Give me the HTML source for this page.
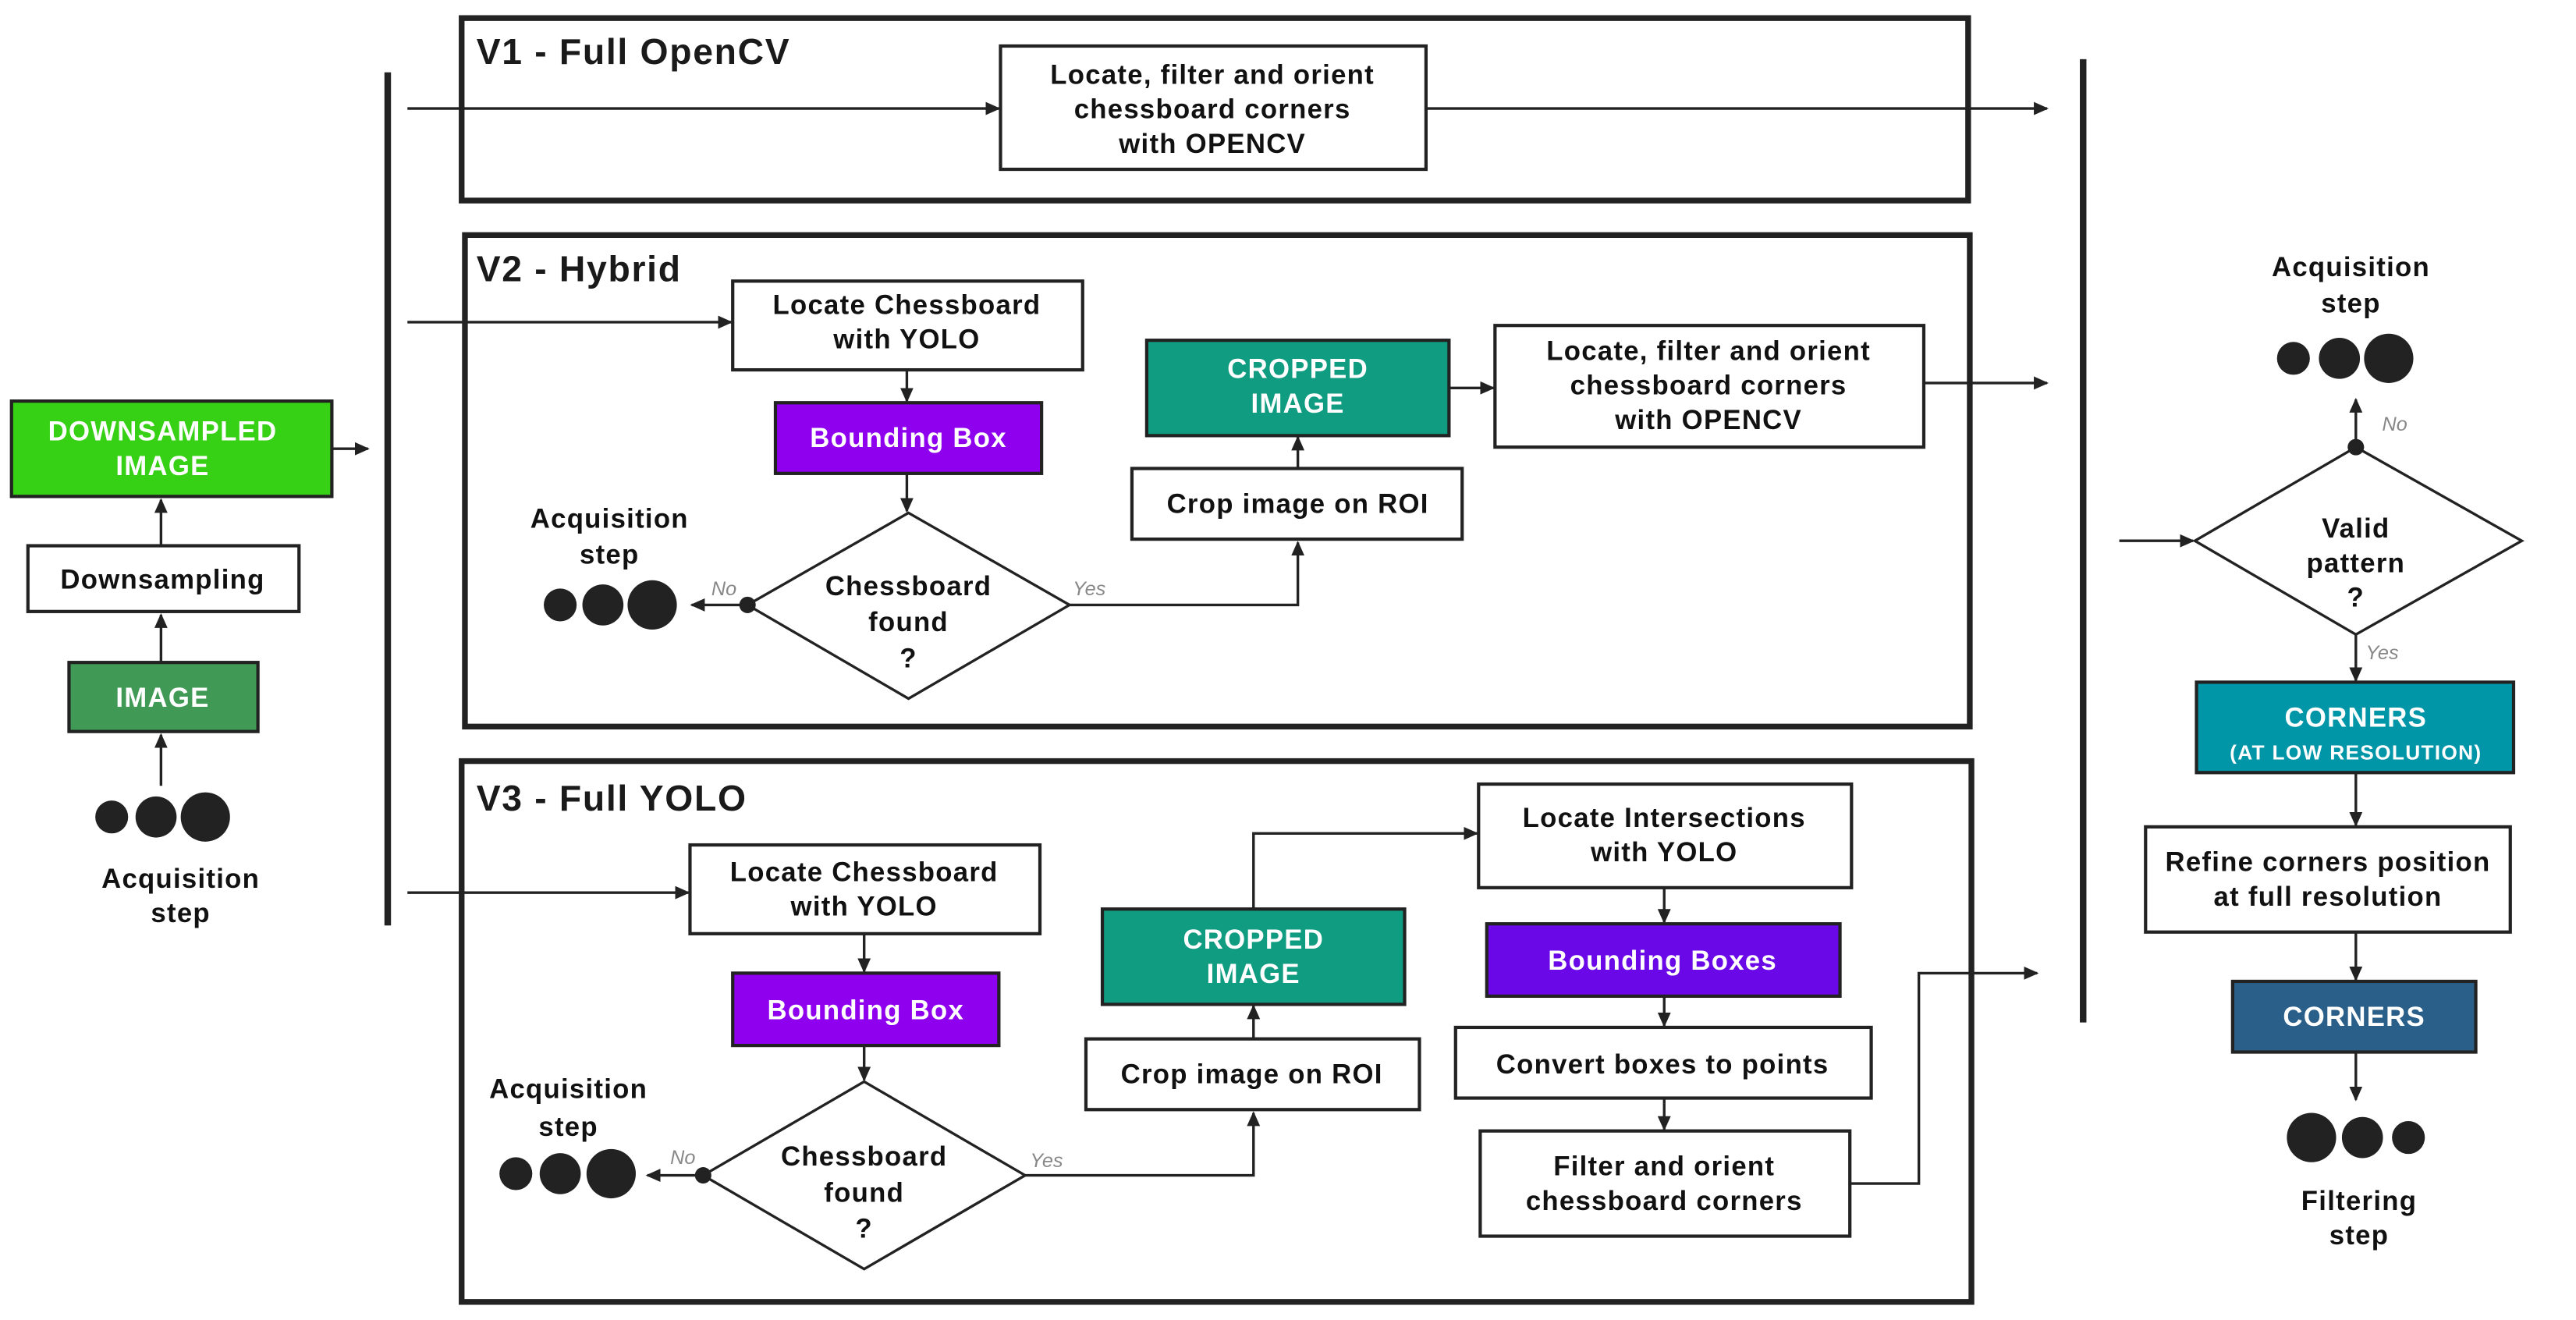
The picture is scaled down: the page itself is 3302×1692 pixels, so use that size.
<!DOCTYPE html>
<html><head><meta charset="utf-8"><style>
html,body{margin:0;padding:0;background:#fff;}
svg{display:block;}
text{font-family:"Liberation Sans",Arial,sans-serif;font-weight:bold;text-anchor:middle;}
.t{font-size:16.5px;fill:#111;letter-spacing:0.6px;}
.w{font-size:16.5px;fill:#fff;letter-spacing:0.6px;}
.h{font-size:22px;fill:#1a1a1a;text-anchor:start;letter-spacing:0.8px;}
.yn{font-size:12px;fill:#888;font-style:italic;font-weight:normal;text-anchor:start;}
</style></head><body>
<svg width="3302" height="1692" viewBox="0 0 1568 803" preserveAspectRatio="none" xmlns="http://www.w3.org/2000/svg">
<defs>
<marker id="a" markerWidth="10" markerHeight="10" refX="8" refY="5" orient="auto" markerUnits="userSpaceOnUse"><path d="M0,1 L9,5 L0,9 z" fill="#222"/></marker>
</defs>
<g stroke="#222" stroke-width="1.6" fill="none">
<!-- left column -->
<line x1="98" y1="478" x2="98" y2="447" marker-end="url(#a)"/>
<line x1="98" y1="403" x2="98" y2="374" marker-end="url(#a)"/>
<line x1="98" y1="332" x2="98" y2="304" marker-end="url(#a)"/>
<line x1="202" y1="273" x2="224" y2="273" marker-end="url(#a)"/>
<!-- bar arrows -->
<line x1="248" y1="66" x2="608" y2="66" marker-end="url(#a)"/>
<line x1="248" y1="196" x2="445" y2="196" marker-end="url(#a)"/>
<line x1="248" y1="543" x2="419" y2="543" marker-end="url(#a)"/>
<line x1="868" y1="66" x2="1246" y2="66" marker-end="url(#a)"/>
<!-- V2 -->
<line x1="552" y1="225" x2="552" y2="244" marker-end="url(#a)"/>
<line x1="552" y1="288" x2="552" y2="311" marker-end="url(#a)"/>
<line x1="455" y1="368" x2="421" y2="368" marker-end="url(#a)"/>
<polyline points="651,368 790,368 790,330" marker-end="url(#a)"/>
<line x1="790" y1="285" x2="790" y2="266" marker-end="url(#a)"/>
<line x1="882" y1="236" x2="909" y2="236" marker-end="url(#a)"/>
<line x1="1171" y1="233" x2="1246" y2="233" marker-end="url(#a)"/>
<!-- V3 -->
<line x1="526" y1="568" x2="526" y2="591" marker-end="url(#a)"/>
<line x1="526" y1="636" x2="526" y2="657" marker-end="url(#a)"/>
<line x1="428" y1="715" x2="394" y2="715" marker-end="url(#a)"/>
<polyline points="624,715 763,715 763,677" marker-end="url(#a)"/>
<line x1="763" y1="632" x2="763" y2="612" marker-end="url(#a)"/>
<polyline points="763,553 763,507 899,507" marker-end="url(#a)"/>
<line x1="1013" y1="540" x2="1013" y2="561" marker-end="url(#a)"/>
<line x1="1013" y1="606" x2="1013" y2="624" marker-end="url(#a)"/>
<line x1="1013" y1="668" x2="1013" y2="687" marker-end="url(#a)"/>
<polyline points="1126,720 1168,720 1168,592 1240,592" marker-end="url(#a)"/>
<!-- right -->
<line x1="1290" y1="329" x2="1335" y2="329" marker-end="url(#a)"/>
<line x1="1434" y1="272" x2="1434" y2="243" marker-end="url(#a)"/>
<line x1="1434" y1="386" x2="1434" y2="414" marker-end="url(#a)"/>
<line x1="1434" y1="470" x2="1434" y2="502" marker-end="url(#a)"/>
<line x1="1434" y1="567" x2="1434" y2="596" marker-end="url(#a)"/>
<line x1="1434" y1="640" x2="1434" y2="669" marker-end="url(#a)"/>
</g>
<!-- bars -->
<rect x="234" y="44" width="4" height="519" fill="#222"/>
<rect x="1266" y="36" width="4" height="586" fill="#222"/>
<!-- group boxes -->
<g fill="none" stroke="#222" stroke-width="3.5">
<rect x="281" y="11" width="917" height="111"/>
<rect x="283" y="143" width="916" height="299"/>
<rect x="281" y="463" width="919" height="329"/>
</g>
<text class="h" x="290" y="39">V1 - Full OpenCV</text>
<text class="h" x="290" y="171">V2 - Hybrid</text>
<text class="h" x="290" y="493">V3 - Full YOLO</text>
<!-- nodes -->
<g stroke="#222" stroke-width="2">
<rect x="7" y="244" width="195" height="58" fill="#36d014"/>
<rect x="17" y="332" width="165" height="40" fill="#fff"/>
<rect x="42" y="403" width="115" height="42" fill="#409a55"/>
<rect x="609" y="28" width="259" height="75" fill="#fff"/>
<rect x="446" y="171" width="213" height="54" fill="#fff"/>
<rect x="472" y="245" width="162" height="43" fill="#8e00ee"/>
<polygon points="553,312 651,368 553,425 455,368" fill="#fff" stroke-width="1.6"/>
<rect x="689" y="285" width="201" height="43" fill="#fff"/>
<rect x="698" y="207" width="184" height="58" fill="#109c80"/>
<rect x="910" y="198" width="261" height="74" fill="#fff"/>
<rect x="420" y="514" width="213" height="54" fill="#fff"/>
<rect x="446" y="592" width="162" height="44" fill="#8e00ee"/>
<polygon points="526,658 624,715 526,772 428,715" fill="#fff" stroke-width="1.6"/>
<rect x="661" y="632" width="203" height="43" fill="#fff"/>
<rect x="671" y="553" width="184" height="58" fill="#109c80"/>
<rect x="900" y="477" width="227" height="63" fill="#fff"/>
<rect x="905" y="562" width="215" height="44" fill="#6a08e8"/>
<rect x="886" y="625" width="253" height="43" fill="#fff"/>
<rect x="901" y="688" width="225" height="64" fill="#fff"/>
<polygon points="1434,272 1535,329 1434,386 1336,329" fill="#fff" stroke-width="1.6"/>
<rect x="1337" y="415" width="193" height="55" fill="#0096a8"/>
<rect x="1306" y="503" width="222" height="64" fill="#fff"/>
<rect x="1359" y="597" width="148" height="43" fill="#2a5f8a"/>
</g>
<!-- decision dots -->
<g fill="#222">
<circle cx="455" cy="368" r="5"/><circle cx="428" cy="715" r="5"/><circle cx="1434" cy="272" r="5"/>
<!-- step dots -->
<circle cx="68" cy="497" r="10"/><circle cx="95" cy="497" r="12.5"/><circle cx="125" cy="497" r="15"/>
<circle cx="341" cy="368" r="10"/><circle cx="367" cy="368" r="12.5"/><circle cx="397" cy="368" r="15"/>
<circle cx="314" cy="714" r="10"/><circle cx="341" cy="714" r="12.5"/><circle cx="372" cy="714" r="15"/>
<circle cx="1396" cy="218" r="10"/><circle cx="1424" cy="218" r="12.5"/><circle cx="1454" cy="218" r="15"/>
<circle cx="1407" cy="692" r="15"/><circle cx="1438" cy="692" r="12.5"/><circle cx="1466" cy="692" r="10"/>
</g>
<!-- texts -->
<text class="w" x="99" y="268">DOWNSAMPLED</text><text class="w" x="99" y="289">IMAGE</text>
<text class="t" x="99" y="358">Downsampling</text>
<text class="w" x="99" y="430">IMAGE</text>
<text class="t" x="110" y="540">Acquisition</text><text class="t" x="110" y="561">step</text>

<text class="t" x="738" y="51">Locate, filter and orient</text>
<text class="t" x="738" y="72">chessboard corners</text>
<text class="t" x="738" y="93">with OPENCV</text>

<text class="t" x="552" y="191">Locate Chessboard</text><text class="t" x="552" y="212">with YOLO</text>
<text class="w" x="553" y="272">Bounding Box</text>
<text class="t" x="553" y="362">Chessboard</text><text class="t" x="553" y="384">found</text><text class="t" x="553" y="406">?</text>
<text class="yn" x="433" y="362">No</text><text class="yn" x="653" y="362">Yes</text>
<text class="t" x="371" y="321">Acquisition</text><text class="t" x="371" y="343">step</text>
<text class="t" x="790" y="312">Crop image on ROI</text>
<text class="w" x="790" y="230">CROPPED</text><text class="w" x="790" y="251">IMAGE</text>
<text class="t" x="1040" y="219">Locate, filter and orient</text>
<text class="t" x="1040" y="240">chessboard corners</text>
<text class="t" x="1040" y="261">with OPENCV</text>

<text class="t" x="526" y="536">Locate Chessboard</text><text class="t" x="526" y="557">with YOLO</text>
<text class="w" x="527" y="620">Bounding Box</text>
<text class="t" x="526" y="709">Chessboard</text><text class="t" x="526" y="731">found</text><text class="t" x="526" y="753">?</text>
<text class="yn" x="408" y="708">No</text><text class="yn" x="627" y="710">Yes</text>
<text class="t" x="346" y="668">Acquisition</text><text class="t" x="346" y="691">step</text>
<text class="t" x="762" y="659">Crop image on ROI</text>
<text class="w" x="763" y="577">CROPPED</text><text class="w" x="763" y="598">IMAGE</text>
<text class="t" x="1013" y="503">Locate Intersections</text><text class="t" x="1013" y="524">with YOLO</text>
<text class="w" x="1012" y="590">Bounding Boxes</text>
<text class="t" x="1012" y="653">Convert boxes to points</text>
<text class="t" x="1013" y="715">Filter and orient</text><text class="t" x="1013" y="736">chessboard corners</text>

<text class="t" x="1431" y="168">Acquisition</text><text class="t" x="1431" y="190">step</text>
<text class="t" x="1434" y="327">Valid</text><text class="t" x="1434" y="348">pattern</text><text class="t" x="1434" y="369">?</text>
<text class="yn" x="1450" y="262">No</text><text class="yn" x="1440" y="401">Yes</text>
<text class="w" x="1434" y="442">CORNERS</text>
<text class="w" x="1434" y="462" style="font-size:12.5px">(AT LOW RESOLUTION)</text>
<text class="t" x="1417" y="530">Refine corners position</text><text class="t" x="1417" y="551">at full resolution</text>
<text class="w" x="1433" y="624">CORNERS</text>
<text class="t" x="1436" y="736">Filtering</text><text class="t" x="1436" y="757">step</text>
</svg>
</body></html>
